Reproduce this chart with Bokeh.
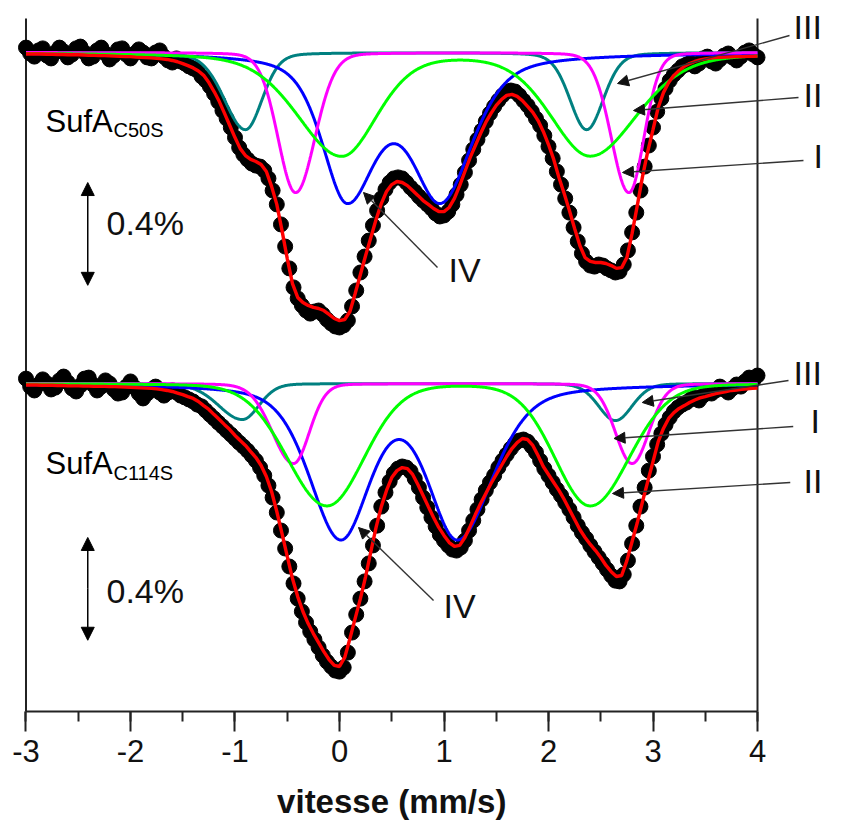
import numpy as np
from bokeh.plotting import figure
from bokeh.models import (Range1d, SingleIntervalTicker, FixedTicker, Arrow, NormalHead,
                          LinearAxis)
from bokeh.core.properties import value
from bokeh.embed import file_html
from bokeh.resources import INLINE

# ---------------- data ----------------
# measured points: velocity grid (mm/s) and relative transmission (%)
v_points = np.round(-3 + 0.04 * np.arange(176), 2)

c50s_data = [
    0.019, -0.004, -0.016, 0.008, 0.016, -0.012, -0.023, 0.000, 0.019, 0.004,
    -0.019, -0.008, 0.016, 0.023, 0.000, -0.023, -0.016, 0.008, 0.019, -0.004,
    -0.027, -0.012, 0.012, 0.016, -0.008, -0.023, -0.004, 0.012, 0.000, -0.019,
    -0.023, 0.000, 0.008, -0.016, -0.031, -0.039, -0.023, -0.035, -0.043, -0.054,
    -0.062, -0.070, -0.093, -0.109, -0.132, -0.160, -0.191, -0.226, -0.257, -0.292,
    -0.331, -0.370, -0.397, -0.416, -0.432, -0.440, -0.444, -0.459, -0.490, -0.537,
    -0.591, -0.669, -0.755, -0.840, -0.914, -0.957, -0.984, -1.004, -1.016, -1.008,
    -1.004, -1.019, -1.039, -1.054, -1.066, -1.070, -1.062, -1.043, -0.988, -0.926,
    -0.856, -0.794, -0.732, -0.673, -0.615, -0.568, -0.533, -0.506, -0.490, -0.486,
    -0.490, -0.506, -0.525, -0.541, -0.560, -0.576, -0.591, -0.607, -0.626, -0.638,
    -0.634, -0.619, -0.591, -0.553, -0.514, -0.467, -0.420, -0.377, -0.339, -0.304,
    -0.268, -0.237, -0.210, -0.187, -0.167, -0.152, -0.148, -0.152, -0.167, -0.187,
    -0.206, -0.230, -0.257, -0.284, -0.323, -0.366, -0.412, -0.463, -0.514, -0.568,
    -0.623, -0.681, -0.735, -0.782, -0.813, -0.829, -0.833, -0.825, -0.829, -0.840,
    -0.848, -0.856, -0.852, -0.825, -0.770, -0.700, -0.623, -0.537, -0.444, -0.362,
    -0.292, -0.230, -0.179, -0.140, -0.109, -0.086, -0.070, -0.054, -0.047, -0.039,
    -0.054, -0.043, -0.023, -0.016, -0.035, -0.043, -0.027, -0.012, -0.004, -0.019,
    -0.031, -0.016, 0.000, 0.008, -0.008, -0.019,
]

c114s_data = [
    0.019, -0.012, -0.027, -0.004, 0.016, 0.000, -0.023, -0.016, 0.012, 0.027,
    0.004, -0.019, -0.031, -0.008, 0.019, 0.023, -0.004, -0.027, -0.012, 0.012,
    0.000, -0.023, -0.039, -0.035, -0.012, 0.008, -0.016, -0.039, -0.058, -0.039,
    -0.023, -0.012, -0.035, -0.047, -0.035, -0.027, -0.035, -0.047, -0.054, -0.062,
    -0.070, -0.082, -0.089, -0.105, -0.121, -0.136, -0.152, -0.167, -0.183, -0.198,
    -0.214, -0.230, -0.245, -0.261, -0.280, -0.300, -0.327, -0.358, -0.397, -0.444,
    -0.502, -0.572, -0.642, -0.712, -0.778, -0.837, -0.887, -0.930, -0.965, -0.996,
    -1.027, -1.058, -1.082, -1.101, -1.117, -1.121, -1.105, -1.047, -0.969, -0.899,
    -0.837, -0.770, -0.700, -0.630, -0.553, -0.479, -0.424, -0.381, -0.350, -0.331,
    -0.323, -0.327, -0.342, -0.370, -0.405, -0.444, -0.482, -0.521, -0.556, -0.588,
    -0.611, -0.630, -0.646, -0.650, -0.638, -0.611, -0.572, -0.533, -0.490, -0.451,
    -0.416, -0.385, -0.358, -0.327, -0.300, -0.276, -0.253, -0.233, -0.222, -0.218,
    -0.226, -0.245, -0.268, -0.300, -0.331, -0.358, -0.385, -0.412, -0.436, -0.463,
    -0.490, -0.521, -0.553, -0.580, -0.603, -0.630, -0.654, -0.677, -0.700, -0.724,
    -0.747, -0.767, -0.770, -0.743, -0.689, -0.623, -0.553, -0.479, -0.405, -0.339,
    -0.284, -0.237, -0.195, -0.160, -0.132, -0.109, -0.093, -0.082, -0.074, -0.062,
    -0.054, -0.066, -0.047, -0.031, -0.039, -0.027, -0.012, -0.023, -0.035, -0.019,
    -0.004, -0.012, 0.008, 0.023, 0.012, 0.031,
]

# total fit (red), read on a 0.05 mm/s grid
v_fit_total = np.round(-3 + 0.05 * np.arange(141), 2)

c50s_fit_total = [
    -0.006, -0.006, -0.006, -0.006, -0.007, -0.007, -0.008, -0.008, -0.009, -0.009,
    -0.009, -0.010, -0.011, -0.011, -0.012, -0.012, -0.013, -0.014, -0.015, -0.016,
    -0.016, -0.018, -0.019, -0.020, -0.021, -0.023, -0.025, -0.027, -0.031, -0.036,
    -0.043, -0.051, -0.060, -0.072, -0.089, -0.117, -0.152, -0.191, -0.237, -0.284,
    -0.331, -0.374, -0.401, -0.416, -0.424, -0.436, -0.463, -0.521, -0.591, -0.693,
    -0.802, -0.899, -0.953, -0.973, -0.984, -0.992, -0.996, -1.004, -1.019, -1.035,
    -1.043, -1.039, -1.008, -0.938, -0.864, -0.790, -0.720, -0.650, -0.588, -0.541,
    -0.514, -0.502, -0.506, -0.518, -0.537, -0.556, -0.576, -0.591, -0.607, -0.619,
    -0.619, -0.603, -0.568, -0.518, -0.463, -0.409, -0.362, -0.315, -0.272, -0.237,
    -0.206, -0.183, -0.167, -0.163, -0.171, -0.187, -0.210, -0.233, -0.265, -0.307,
    -0.358, -0.416, -0.486, -0.549, -0.615, -0.685, -0.751, -0.798, -0.813, -0.817,
    -0.817, -0.821, -0.829, -0.840, -0.837, -0.798, -0.704, -0.595, -0.482, -0.385,
    -0.300, -0.214, -0.156, -0.117, -0.089, -0.070, -0.054, -0.043, -0.035, -0.029,
    -0.025, -0.022, -0.020, -0.019, -0.018, -0.017, -0.016, -0.016, -0.015, -0.015,
    -0.014,
]

c114s_fit_total = [
    -0.006, -0.006, -0.006, -0.007, -0.007, -0.007, -0.008, -0.008, -0.009, -0.009,
    -0.009, -0.010, -0.010, -0.011, -0.011, -0.011, -0.012, -0.012, -0.013, -0.014,
    -0.015, -0.016, -0.017, -0.018, -0.019, -0.021, -0.024, -0.027, -0.031, -0.037,
    -0.043, -0.051, -0.058, -0.070, -0.086, -0.101, -0.121, -0.140, -0.160, -0.179,
    -0.202, -0.222, -0.241, -0.265, -0.288, -0.319, -0.362, -0.420, -0.498, -0.584,
    -0.673, -0.759, -0.829, -0.887, -0.934, -0.973, -1.008, -1.043, -1.074, -1.097,
    -1.101, -1.066, -0.992, -0.914, -0.837, -0.751, -0.654, -0.560, -0.479, -0.416,
    -0.366, -0.339, -0.327, -0.331, -0.354, -0.393, -0.436, -0.479, -0.521, -0.560,
    -0.591, -0.619, -0.634, -0.630, -0.599, -0.556, -0.510, -0.467, -0.428, -0.389,
    -0.354, -0.319, -0.284, -0.253, -0.230, -0.214, -0.218, -0.241, -0.280, -0.323,
    -0.354, -0.385, -0.416, -0.451, -0.490, -0.529, -0.568, -0.599, -0.626, -0.650,
    -0.677, -0.708, -0.732, -0.751, -0.747, -0.689, -0.615, -0.541, -0.459, -0.381,
    -0.304, -0.226, -0.175, -0.136, -0.113, -0.097, -0.086, -0.074, -0.064, -0.056,
    -0.051, -0.045, -0.039, -0.035, -0.031, -0.027, -0.025, -0.023, -0.021, -0.019,
    -0.018,
]

# fitted sub-spectra (doublets), site order I, II, III, IV
sites = ["I", "II", "III", "IV"]
site_colors = ["#FF00FF", "#00FF00", "#008080", "#0000FF"]

c50s_center = [[-0.42, 2.77], [0.02, 2.40], [-0.90, 2.365], [0.07, 0.97]]
c50s_depth = [[0.545, 0.545], [0.40, 0.40], [0.30, 0.30], [0.552, 0.552]]
c50s_hw_left = [[0.20, 0.20], [0.50, 0.45], [0.24, 0.19], [0.28, 0.335]]
c50s_hw_right = [[0.22, 0.17], [0.40, 0.53], [0.19, 0.19], [0.335, 0.36]]
c50s_eta = [0.1, 0.3, 0.2, 0.5]

c114s_center = [[-0.44, 2.80], [-0.12, 2.40], [-0.93, 2.64], [0.01, 1.13]]
c114s_depth = [[0.311, 0.311], [0.475, 0.475], [0.14, 0.144], [0.59, 0.59]]
c114s_hw_left = [[0.24, 0.19], [0.45, 0.40], [0.27, 0.19], [0.35, 0.33]]
c114s_hw_right = [[0.18, 0.19], [0.42, 0.44], [0.19, 0.19], [0.33, 0.40]]
c114s_eta = [0.1, 0.1, 0.15, 0.4]

sample_names = ["SufA", "SufA"]
sample_subs = ["C50S", "C114S"]
spectrum_offsets = [0.0, -1.288]   # vertical stacking of the two spectra (%)
scale_bar = 0.4                    # %
x_bounds = (-3, 4)
x_tick_values = [-3, -2, -1, 0, 1, 2, 3, 4]
x_title = "vitesse (mm/s)"

SANS = "'Liberation Sans', Arial, sans-serif"

# ---------------- figure ----------------
Y_BOTTOM, Y_TOP = -2.5642, 0.20233
p = figure(frame_width=825, frame_height=711,
           x_range=Range1d(-3.2440, 4.6507), y_range=Range1d(Y_BOTTOM, Y_TOP),
           output_backend="svg", toolbar_location=None,
           y_axis_location=None, min_border=0)
p.grid.visible = False
p.outline_line_color = None
p.background_fill_color = "white"
p.border_fill_color = "white"

ax = p.xaxis[0]
ax.ticker = SingleIntervalTicker(interval=1, num_minor_ticks=2)
ax.bounds = x_bounds
ax.axis_line_width = 2
ax.axis_line_color = "#222222"
ax.major_tick_line_width = 2
ax.major_tick_line_color = "#222222"
ax.major_tick_out = 20
ax.major_tick_in = 0
ax.minor_tick_line_width = 2
ax.minor_tick_line_color = "#222222"
ax.minor_tick_out = 10
ax.minor_tick_in = 0
ax.major_label_text_font = SANS
ax.major_label_text_font_size = "31px"
ax.major_label_text_color = "#111111"
ax.major_label_standoff = 8
ax.major_label_overrides = {t: str(t) for t in x_tick_values}

# axis title, centred under the tick range
tax = LinearAxis(ticker=FixedTicker(ticks=[sum(x_bounds) / 2]),
                 major_label_overrides={sum(x_bounds) / 2: x_title})
tax.axis_line_color = None
tax.major_tick_line_color = None
tax.minor_tick_line_color = None
tax.major_tick_out = 0
tax.major_tick_in = 0
tax.major_label_standoff = 18
tax.major_label_text_font = SANS
tax.major_label_text_font_style = "bold"
tax.major_label_text_font_size = "33px"
tax.major_label_text_color = "#111111"
p.add_layout(tax, "below")

# side frame lines
frame_top = 0.1323
p.segment(x0=list(x_bounds), y0=[Y_BOTTOM, Y_BOTTOM],
          x1=list(x_bounds), y1=[frame_top, frame_top],
          line_color="#222222", line_width=2)


def shape(v, c, hl, hr, eta):
    h = np.where(v < c, hl, hr)
    x = (v - c) / h
    return eta / (1 + x ** 2) + (1 - eta) * np.exp(-np.log(2) * x ** 2)


v_fit = np.linspace(-3, 4, 1401)
spectra = [
    (c50s_data, c50s_fit_total, c50s_center, c50s_depth, c50s_hw_left, c50s_hw_right, c50s_eta),
    (c114s_data, c114s_fit_total, c114s_center, c114s_depth, c114s_hw_left, c114s_hw_right, c114s_eta),
]

draw_order = [2, 3, 0, 1]  # III, IV, I, II
for (data, total, cen, dep, hl, hr, eta), off in zip(spectra, spectrum_offsets):
    p.scatter(v_points, np.array(data) + off, size=15, marker="circle",
              fill_color="black", line_color="black")
    for i in draw_order:
        comp = np.zeros_like(v_fit)
        for j in range(2):
            comp += dep[i][j] * shape(v_fit, cen[i][j], hl[i][j], hr[i][j], eta[i])
        p.line(v_fit, off - comp, line_color=site_colors[i], line_width=3)
    p.line(v_fit_total, np.array(total) + off, line_color="#FF0000", line_width=3.4)

# sample names
p.text(x=[-2.8134, -2.8134], y=[-0.2685, -1.5992], text=sample_names,
       text_font=value(SANS), text_font_size=value("31px"),
       text_baseline="alphabetic", text_align="left", text_color="black")
p.text(x=[-2.1627, -2.1627], y=[-0.3035, -1.6381], text=sample_subs,
       text_font=value(SANS), text_font_size=value("20px"),
       text_baseline="alphabetic", text_align="left", text_color="black")

# scale bars (0.4 %)
bar_x = -2.409
bar_tops = [-0.506, -1.887]
for top in bar_tops:
    for end_y in (top, top - scale_bar):
        p.add_layout(Arrow(x_start=bar_x, y_start=top - scale_bar / 2, x_end=bar_x, y_end=end_y,
                           line_color="black", line_width=1.5,
                           end=NormalHead(size=13, fill_color="black", line_color="black")))
p.text(x=[-2.2297, -2.2297], y=[-0.6634, -2.0934], text=[f"{scale_bar}%"] * 2,
       text_font=value(SANS), text_font_size=value("34px"),
       text_baseline="middle", text_align="left", text_color="#111111")

# site labels and leader arrows
lab_text = ["III", "II", "I", "IV", "III", "I", "II", "IV"]
lab_x = [4.3445, 4.4402, 4.5359, 1.0431, 4.3445, 4.5072, 4.4402, 0.9952]
lab_y = [0.0992, -0.1673, -0.4008, -0.8482, -1.2471, -1.4339, -1.6673, -2.1537]
p.text(x=lab_x, y=lab_y, text=lab_text, text_font=value(SANS),
       text_font_size=value("34px"), text_baseline="middle", text_align="left",
       text_color="#111111")

arr_x0 = [4.3062, 4.3923, 4.4402, 0.9380, 4.2967, 4.3421, 4.3134, 0.9000]
arr_y0 = [0.0661, -0.1751, -0.4202, -0.8370, -1.2763, -1.4553, -1.6732, -2.1320]
arr_x1 = [2.6603, 2.8134, 2.7081, 0.2297, 2.8971, 2.6268, 2.6124, 0.1818]
arr_y1 = [-0.1206, -0.2257, -0.4669, -0.5447, -1.3619, -1.5019, -1.7160, -1.8482]
for x0, y0, x1, y1 in zip(arr_x0, arr_y0, arr_x1, arr_y1):
    p.add_layout(Arrow(x_start=x0, y_start=y0, x_end=x1, y_end=y1,
                       line_color="#333333", line_width=1.4,
                       end=NormalHead(size=11, fill_color="#111111", line_color="#111111")))

open("out.html", "w").write(file_html(p, INLINE))
